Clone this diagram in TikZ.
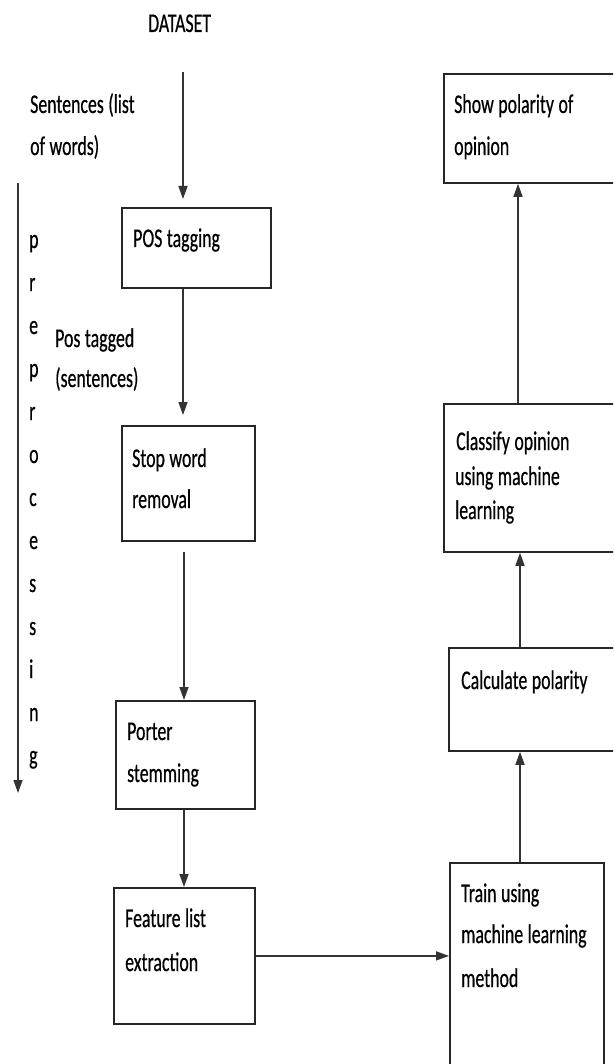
\documentclass[tikz,border=0pt]{standalone}
\usepackage{fontspec}
\setmainfont{Carlito}[FakeStretch=0.66,FakeBold=0.5]
\usetikzlibrary{arrows.meta}
\newcommand\mytightsp{\spaceskip=4.5pt plus 1pt minus 1pt\relax}
\begin{document}
\begin{tikzpicture}[x=1pt,y=-1pt,
  box/.style={draw=black!85, line width=1.8pt, inner sep=0pt, anchor=north west},
  txt/.style={anchor=base west, inner sep=0pt, font=\fontsize{27}{27}\selectfont\mytightsp, text=black},
  arr/.style={draw=black!80, line width=1.5pt, -{Triangle[width=9pt,length=13pt]}}]
\useasboundingbox (0,0) rectangle (613,1064);
\clip (0,0) rectangle (613,1064);
% boxes
\node[box, minimum width=149pt, minimum height=80pt]  (pos)    at (121,207) {};
\node[box, minimum width=133pt, minimum height=115pt] (stop)   at (121,425) {};
\node[box, minimum width=139pt, minimum height=108pt] (porter) at (115,700) {};
\node[box, minimum width=141pt, minimum height=136pt] (feat)   at (113,887) {};
\node[box, minimum width=154pt, minimum height=230pt] (train)  at (449,862) {};
\node[box, minimum width=166pt, minimum height=103pt] (calc)   at (448,647) {};
\node[box, minimum width=171pt, minimum height=148pt] (class)  at (443,403) {};
\node[box, minimum width=171pt, minimum height=109pt] (show)   at (443,73)  {};
% texts
\node[txt] (tds)  at (148,32)  {DATASET};
\node[txt] (ts1)  at (30,113)  {Sentences (list};
\node[txt] (ts2)  at (30,155)  {of words)};
\node[txt] (tpos) at (133,247) {POS tagging};
\node[txt] (tpt1) at (55,347)  {Pos tagged};
\node[txt] (tpt2) at (55,387)  {(sentences)};
\node[txt] (tst1) at (132,467) {Stop word};
\node[txt] (tst2) at (132,508) {removal};
\node[txt] (tpo1) at (127,740) {Porter};
\node[txt] (tpo2) at (127,782) {stemming};
\node[txt] (tfe1) at (125,927) {Feature list};
\node[txt] (tfe2) at (125,971) {extraction};
\node[txt] (ttr1) at (461,902) {Train using};
\node[txt] (ttr2) at (461,943) {machine learning};
\node[txt] (ttr3) at (461,987) {method};
\node[txt] (tca)  at (461,689) {Calculate polarity};
\node[txt] (tcl1) at (456,450) {Classify opinion};
\node[txt] (tcl2) at (455,485) {using machine};
\node[txt] (tcl3) at (455,519) {learning};
\node[txt] (tsh1) at (454,113) {Show polarity of};
\node[txt] (tsh2) at (454,155) {opinion};
\foreach \ch [count=\i from 0] in {p,r,e,p,r,o,c,e,s,s,i,n,g}
  \node[txt] (L\i) at (29,248+43*\i) {\ch};
% connectors
\coordinate (ds) at (183,72);
\coordinate (cA) at (183,0);
\coordinate (cB) at (184,0);
\coordinate (cC) at (520,0);
\coordinate (cD) at (518,0);
\coordinate (lt) at (18,183);
\coordinate (lb) at (18,793);
\draw[arr, shorten >=8pt] (ds) -- (ds |- pos.north);
\draw[arr, shorten >=10pt] (cA |- pos.south) -- (cA |- stop.north);
\draw[arr, shorten <=10pt] (cB |- stop.south) -- (cB |- porter.north);
\draw[arr] (cB |- porter.south) -- (cB |- feat.north);
\draw[arr] (feat.east) -- (feat.east -| train.west);
\draw[arr] (cC |- train.north) -- (cC |- calc.south);
\draw[arr] (cC |- calc.north) -- (cC |- class.south);
\draw[arr] (cD |- class.north) -- (cD |- show.south);
\draw[arr] (lt) -- (lb);
\end{tikzpicture}
\end{document}
